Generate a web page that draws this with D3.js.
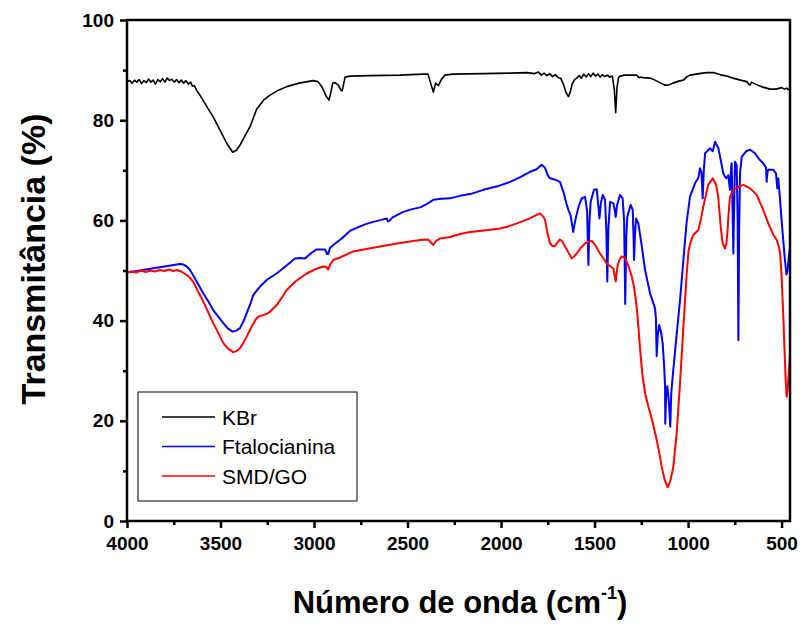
<!DOCTYPE html>
<html><head><meta charset="utf-8">
<script src="https://cdn.jsdelivr.net/npm/d3@7"></script>
<style>body{margin:0;background:#fff}svg{display:block}</style>
</head><body>
<script>
const seriesNames = ["KBr", "Ftalocianina", "SMD/GO"];
const seriesColors = ["#000000", "#0000ff", "#ff0000"];
const xTicks = [4000, 3500, 3000, 2500, 2000, 1500, 1000, 500];
const yTicks = [0, 20, 40, 60, 80, 100];

const kbr = [[4000,87.7],[3985,87.9],[3972,87.4],[3960,88.0],[3948,87.6],[3935,88.1],[3922,87.3],[3910,87.9],[3897,87.5],[3885,88.2],[3872,87.6],[3860,88.0],[3848,87.2],[3835,88.1],[3822,87.7],[3810,88.3],[3797,87.6],[3785,88.4],[3772,87.9],[3760,88.2],[3748,87.6],[3735,88.1],[3722,87.5],[3710,88.0],[3697,87.4],[3685,87.9],[3672,87.2],[3660,87.6],[3650,86.8],[3640,86.9],[3625,85.8],[3610,85.0],[3575,82.8],[3540,80.7],[3500,77.8],[3467,75.4],[3435,73.6],[3415,74.0],[3396,75.0],[3370,76.8],[3342,78.7],[3307,82.2],[3270,84.0],[3235,85.0],[3190,86.0],[3146,86.7],[3080,87.4],[3005,87.9],[2979,87.7],[2960,86.8],[2950,86.0],[2935,84.8],[2920,84.0],[2910,85.5],[2900,87.4],[2888,87.5],[2870,87.0],[2856,86.0],[2849,85.9],[2840,87.5],[2834,88.6],[2808,88.8],[2700,88.9],[2540,89.0],[2420,89.2],[2391,89.2],[2378,87.6],[2362,85.6],[2350,87.4],[2335,86.9],[2318,88.2],[2300,89.0],[2257,89.2],[2100,89.3],[1950,89.4],[1863,89.5],[1820,89.3],[1800,89.6],[1785,89.0],[1770,89.4],[1755,88.9],[1740,89.3],[1725,88.7],[1710,89.1],[1695,88.5],[1680,88.3],[1665,87.0],[1652,85.5],[1640,84.7],[1630,85.6],[1620,87.2],[1605,88.2],[1595,88.4],[1582,88.9],[1570,88.4],[1558,89.2],[1545,88.6],[1532,89.3],[1520,88.7],[1508,89.4],[1495,88.8],[1482,89.2],[1470,88.6],[1458,89.1],[1445,88.7],[1432,89.0],[1420,88.6],[1405,88.8],[1394,86.0],[1387,81.5],[1380,86.5],[1372,88.5],[1364,88.8],[1340,89.0],[1300,89.0],[1275,89.0],[1262,88.5],[1257,88.6],[1240,88.5],[1204,88.4],[1177,88.0],[1150,87.5],[1125,87.0],[1106,87.0],[1080,87.4],[1050,87.8],[1025,88.0],[1005,88.7],[990,89.0],[940,89.3],[900,89.5],[865,89.5],[830,89.1],[793,88.8],[760,88.4],[720,88.0],[686,87.7],[675,87.2],[669,87.0],[660,87.6],[640,87.2],[600,86.6],[562,86.2],[530,86.2],[500,86.5],[485,86.2],[473,86.4],[465,86.1],[455,86.3]];

const ftalocianina = [[4000,49.6],[3950,49.9],[3900,50.2],[3850,50.5],[3800,50.8],[3750,51.1],[3717,51.3],[3700,51.2],[3681,50.8],[3665,50.2],[3647,49.1],[3620,47.3],[3592,45.4],[3565,43.8],[3539,42.1],[3510,40.7],[3485,39.5],[3460,38.4],[3435,37.8],[3415,38.0],[3396,38.5],[3378,39.8],[3360,41.5],[3340,43.4],[3325,45.1],[3300,46.3],[3289,46.8],[3250,48.2],[3200,49.4],[3150,50.9],[3102,52.4],[3075,52.5],[3048,52.4],[3015,53.5],[2986,54.2],[2941,54.2],[2930,53.3],[2924,53.3],[2915,54.5],[2897,55.1],[2852,56.4],[2808,57.9],[2760,58.7],[2720,59.3],[2683,59.7],[2640,60.1],[2611,60.4],[2605,59.8],[2597,59.9],[2580,60.6],[2523,61.7],[2480,62.2],[2433,62.6],[2400,63.2],[2362,64.1],[2320,64.3],[2273,64.4],[2219,64.9],[2160,65.3],[2095,66.1],[2020,66.8],[1952,67.7],[1900,68.6],[1845,69.7],[1810,70.2],[1783,71.1],[1765,70.5],[1750,69.0],[1738,68.4],[1710,68.1],[1685,67.7],[1665,65.5],[1650,63.3],[1640,62.1],[1628,61.0],[1614,57.7],[1608,59.0],[1599,60.7],[1585,62.8],[1569,64.4],[1551,64.7],[1540,62.0],[1533,51.1],[1527,60.0],[1521,63.7],[1503,66.1],[1488,66.2],[1480,63.0],[1474,60.4],[1466,63.5],[1456,65.1],[1444,64.1],[1437,58.0],[1432,47.8],[1426,58.5],[1417,63.7],[1399,63.4],[1392,62.0],[1387,60.7],[1380,63.0],[1364,65.1],[1350,64.4],[1342,60.0],[1336,43.3],[1330,57.0],[1325,60.7],[1307,63.1],[1296,62.1],[1291,56.0],[1289,52.1],[1284,57.0],[1278,60.4],[1266,59.4],[1250,55.5],[1230,50.1],[1215,47.5],[1203,45.4],[1177,42.5],[1172,40.5],[1168,32.9],[1162,37.0],[1155,39.1],[1145,37.8],[1136,35.5],[1128,31.0],[1123,26.8],[1122,19.4],[1117,25.0],[1111,26.9],[1103,24.0],[1095,18.8],[1090,25.5],[1084,28.1],[1064,36.1],[1043,44.1],[1025,52.1],[1008,59.5],[990,64.7],[963,67.4],[945,68.5],[936,70.4],[928,69.5],[922,64.4],[916,70.0],[909,73.4],[883,74.4],[868,73.8],[856,75.7],[838,74.4],[825,72.0],[812,69.4],[797,68.4],[785,69.0],[776,66.1],[770,70.5],[767,71.4],[762,62.0],[758,53.4],[754,62.0],[749,71.7],[740,71.0],[735,60.0],[731,36.1],[727,58.0],[722,69.5],[713,72.7],[690,73.8],[668,74.1],[642,73.4],[620,72.2],[598,71.4],[583,70.5],[580,67.7],[576,69.5],[571,70.1],[544,70.1],[530,69.4],[523,66.4],[518,68.4],[510,65.0],[500,60.1],[490,55.5],[482,52.1],[474,49.2],[468,50.0],[462,52.5],[455,54.5]];

const smdgo = [[4000,49.6],[3975,49.8],[3950,49.6],[3925,50.0],[3900,49.7],[3875,50.0],[3850,49.8],[3825,50.1],[3800,49.9],[3775,50.2],[3750,49.9],[3734,50.1],[3710,49.8],[3681,49.1],[3665,48.6],[3647,47.8],[3620,45.8],[3592,43.8],[3565,41.6],[3539,39.5],[3510,37.4],[3485,35.5],[3460,34.4],[3432,33.7],[3415,33.9],[3396,34.5],[3378,35.5],[3360,36.8],[3335,38.7],[3307,40.5],[3290,40.9],[3271,41.1],[3250,41.4],[3235,41.8],[3200,43.1],[3170,44.7],[3146,46.1],[3100,47.8],[3039,49.4],[2990,50.3],[2950,50.8],[2935,50.7],[2924,50.2],[2912,51.3],[2897,52.1],[2861,52.6],[2790,53.8],[2720,54.3],[2647,54.8],[2540,55.5],[2433,56.1],[2390,56.2],[2375,55.6],[2362,55.1],[2350,55.8],[2326,56.4],[2273,56.7],[2219,57.3],[2166,57.7],[2090,58.0],[2006,58.4],[1960,58.8],[1916,59.4],[1880,59.9],[1845,60.4],[1815,61.0],[1792,61.4],[1775,60.8],[1765,60.1],[1752,57.5],[1738,55.4],[1725,54.9],[1711,54.9],[1700,55.5],[1685,56.2],[1672,55.8],[1658,54.8],[1640,53.6],[1622,52.4],[1610,52.8],[1595,53.4],[1575,54.5],[1551,55.4],[1530,55.8],[1515,55.9],[1495,55.0],[1471,53.4],[1450,52.3],[1435,51.4],[1415,50.8],[1399,50.4],[1393,49.0],[1387,47.8],[1382,49.5],[1376,51.1],[1365,52.3],[1355,52.8],[1340,52.6],[1328,51.8],[1315,50.5],[1301,48.8],[1288,46.5],[1275,42.8],[1265,38.5],[1257,34.5],[1245,29.5],[1230,25.5],[1212,22.8],[1190,19.8],[1168,16.2],[1155,13.8],[1141,10.8],[1125,8.2],[1109,6.7],[1095,8.0],[1079,10.8],[1061,17.5],[1043,27.5],[1025,38.8],[1016,44.1],[1008,49.0],[997,54.1],[985,55.8],[972,57.1],[945,58.1],[930,60.5],[919,62.7],[905,65.0],[892,67.1],[868,68.4],[850,67.1],[840,65.0],[833,62.1],[825,58.5],[815,55.4],[802,54.4],[795,55.5],[790,57.4],[784,61.0],[776,64.7],[765,65.6],[758,66.1],[731,66.7],[705,67.1],[668,66.4],[633,65.1],[598,62.1],[571,59.4],[544,57.1],[526,56.1],[515,54.8],[508,53.4],[500,49.0],[491,41.0],[484,34.0],[478,28.0],[473,24.8],[468,26.0],[462,29.5],[455,33.1]];

const allSeries = [kbr, ftalocianina, smdgo];

const W = 804, H = 626;
const L = 127, R = 790, T = 20, B = 521;
const FONT = "Arial, 'Liberation Sans', sans-serif";
const svg = d3.select("body").append("svg").attr("width", W).attr("height", H);
const x = d3.scaleLinear().domain([4000, 455]).range([L, R]);
const y = d3.scaleLinear().domain([0, 100]).range([B, T]);

const line = d3.line().x(d => x(d[0])).y(d => y(d[1]));
const plot = svg.append("g");
allSeries.forEach((s, i) => {
  plot.append("path").datum(s).attr("d", line)
    .attr("fill", "none").attr("stroke", seriesColors[i])
    .attr("stroke-width", i === 0 ? 1.6 : 2).attr("stroke-linejoin", "round");
});

// minor ticks
const xMinor = d3.range(3750, 455, -500);
const yMinor = d3.range(10, 100, 20);
const gx = svg.append("g").attr("transform", `translate(0,${B})`)
  .call(d3.axisBottom(x).tickValues(xTicks).tickSize(7).tickPadding(9).tickFormat(d3.format("d")));
const gxm = svg.append("g").attr("transform", `translate(0,${B})`)
  .call(d3.axisBottom(x).tickValues(xMinor).tickSize(4).tickFormat(""));
const gy = svg.append("g").attr("transform", `translate(${L},0)`)
  .call(d3.axisLeft(y).tickValues(yTicks).tickSize(7).tickPadding(6).tickFormat(d3.format("d")));
const gym = svg.append("g").attr("transform", `translate(${L},0)`)
  .call(d3.axisLeft(y).tickValues(yMinor).tickSize(4).tickFormat(""));
[gx, gxm, gy, gym].forEach(g => {
  g.select(".domain").remove();
  g.selectAll(".tick line").attr("stroke", "#000").attr("stroke-width", 2.5);
  g.selectAll(".tick text").attr("font-family", FONT)
    .attr("font-weight", "bold").attr("font-size", 19).attr("fill", "#000");
});

svg.append("rect").attr("x", L).attr("y", T).attr("width", R - L).attr("height", B - T)
  .attr("fill", "none").attr("stroke", "#000").attr("stroke-width", 2.5);

// axis titles
svg.append("text").attr("x", 460).attr("y", 613).attr("text-anchor", "middle")
  .attr("font-family", FONT).attr("font-weight", "bold")
  .attr("font-size", 31).attr("fill", "#000")
  .call(t => {
    t.append("tspan").text("Número de onda (cm");
    t.append("tspan").attr("font-size", 18).attr("dy", -14).text("-1");
    t.append("tspan").attr("dy", 14).text(")");
  });
svg.append("text").attr("transform", "translate(45,259) rotate(-90)").attr("text-anchor", "middle")
  .attr("font-family", FONT).attr("font-weight", "bold")
  .attr("font-size", 34).attr("fill", "#000").text("Transmitância (%)");

// legend
const lg = svg.append("g");
lg.append("rect").attr("x", 138).attr("y", 392).attr("width", 219).attr("height", 109)
  .attr("fill", "#fff").attr("stroke", "#000").attr("stroke-width", 1);
seriesNames.forEach((n, i) => {
  const yy = 417 + i * 29.5;
  lg.append("line").attr("x1", 162).attr("x2", 215).attr("y1", yy).attr("y2", yy)
    .attr("stroke", seriesColors[i]).attr("stroke-width", 1.6);
  lg.append("text").attr("x", 222).attr("y", yy + 7.5).text(n)
    .attr("font-family", FONT).attr("font-size", 21).attr("fill", "#000");
});
</script>
</body></html>
